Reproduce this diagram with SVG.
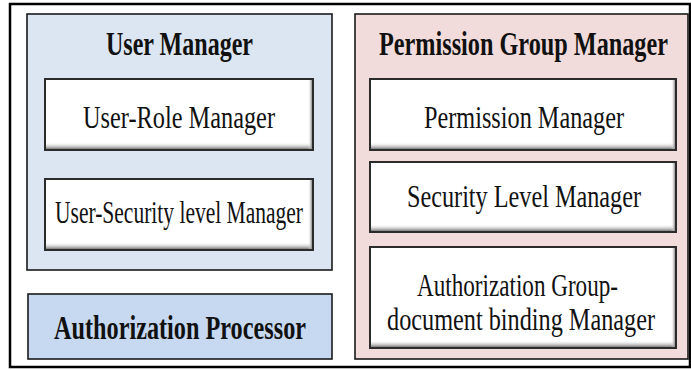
<svg xmlns="http://www.w3.org/2000/svg" width="691" height="370" viewBox="0 0 691 370">
  <style>
    .frame { fill: #ffffff; stroke: #000000; stroke-width: 2.5; }
    .group { stroke: #1a1a1a; stroke-width: 1.6; }
    .user { fill: #dce6f2; }
    .perm { fill: #f2dcdb; }
    .proc { fill: #c6d9f1; }
    .box { fill: #ffffff; stroke: #2b2b2b; stroke-width: 2; }
    .shade-b { fill: url(#shadeBottom); }
    .shade-r { fill: url(#shadeRight); }
    .title { font-family: "Liberation Serif", "Times New Roman", serif; font-weight: bold; font-size: 24.2px; fill: #111111; text-anchor: middle; }
    .label { font-family: "Liberation Serif", "Times New Roman", serif; font-size: 24.2px; fill: #111111; text-anchor: middle; }
  </style>
  <defs>
    <linearGradient id="shadeBottom" x1="0" y1="0" x2="0" y2="1">
      <stop offset="0" stop-color="#ffffff" stop-opacity="0"/>
      <stop offset="1" stop-color="#7a7a7a"/>
    </linearGradient>
    <linearGradient id="shadeRight" x1="0" y1="0" x2="1" y2="0">
      <stop offset="0" stop-color="#ffffff" stop-opacity="0"/>
      <stop offset="1" stop-color="#8a8a8a"/>
    </linearGradient>
  </defs>

  <!-- outer frame -->
  <rect class="frame" x="10" y="4" width="680" height="363"/>

  <!-- User Manager group -->
  <g id="user-manager">
    <rect class="group user" x="27" y="14" width="305" height="256"/>
    <text class="title" transform="translate(179.5,55) scale(1,1.4)" textLength="147" lengthAdjust="spacingAndGlyphs">User Manager</text>
  </g>

  <g id="user-role-manager">
    <rect class="box" x="45" y="79" width="268" height="71"/>
    <rect class="shade-b" x="46" y="142" width="266" height="7"/>
    <rect class="shade-r" x="308" y="80" width="4" height="69"/>
    <text class="label" transform="translate(179,128) scale(1,1.3)" textLength="192" lengthAdjust="spacingAndGlyphs">User-Role Manager</text>
  </g>

  <g id="user-security-level-manager">
    <rect class="box" x="45" y="179" width="268" height="71"/>
    <rect class="shade-b" x="46" y="242" width="266" height="7"/>
    <rect class="shade-r" x="308" y="180" width="4" height="69"/>
    <text class="label" transform="translate(179,223) scale(1,1.3)" textLength="248" lengthAdjust="spacingAndGlyphs">User-Security level Manager</text>
  </g>

  <!-- Authorization Processor -->
  <g id="authorization-processor">
    <rect class="group proc" x="28" y="294" width="304" height="65"/>
    <text class="title" transform="translate(180,339) scale(1,1.4)" textLength="252" lengthAdjust="spacingAndGlyphs">Authorization Processor</text>
  </g>

  <!-- Permission Group Manager group -->
  <g id="permission-group-manager">
    <rect class="group perm" x="355" y="14" width="333" height="345"/>
    <text class="title" transform="translate(523.5,55) scale(1,1.4)" textLength="289" lengthAdjust="spacingAndGlyphs">Permission Group Manager</text>
  </g>

  <g id="permission-manager">
    <rect class="box" x="370" y="79" width="306" height="71"/>
    <rect class="shade-b" x="371" y="142" width="304" height="7"/>
    <rect class="shade-r" x="671" y="80" width="4" height="69"/>
    <text class="label" transform="translate(524,128) scale(1,1.3)" textLength="200" lengthAdjust="spacingAndGlyphs">Permission Manager</text>
  </g>

  <g id="security-level-manager">
    <rect class="box" x="370" y="162" width="306" height="70"/>
    <rect class="shade-b" x="371" y="224" width="304" height="7"/>
    <rect class="shade-r" x="671" y="163" width="4" height="68"/>
    <text class="label" transform="translate(524,207) scale(1,1.3)" textLength="234" lengthAdjust="spacingAndGlyphs">Security Level Manager</text>
  </g>

  <g id="authorization-group-binding-manager">
    <rect class="box" x="370" y="247" width="306" height="101"/>
    <rect class="shade-b" x="371" y="340" width="304" height="7"/>
    <rect class="shade-r" x="671" y="248" width="4" height="99"/>
    <text class="label" transform="translate(517.5,296) scale(1,1.3)" textLength="201" lengthAdjust="spacingAndGlyphs">Authorization Group-</text>
    <text class="label" transform="translate(521,330) scale(1,1.3)" textLength="268" lengthAdjust="spacingAndGlyphs">document binding Manager</text>
  </g>

  <!-- no connectors in this diagram -->
  <g id="connectors"/>
</svg>
